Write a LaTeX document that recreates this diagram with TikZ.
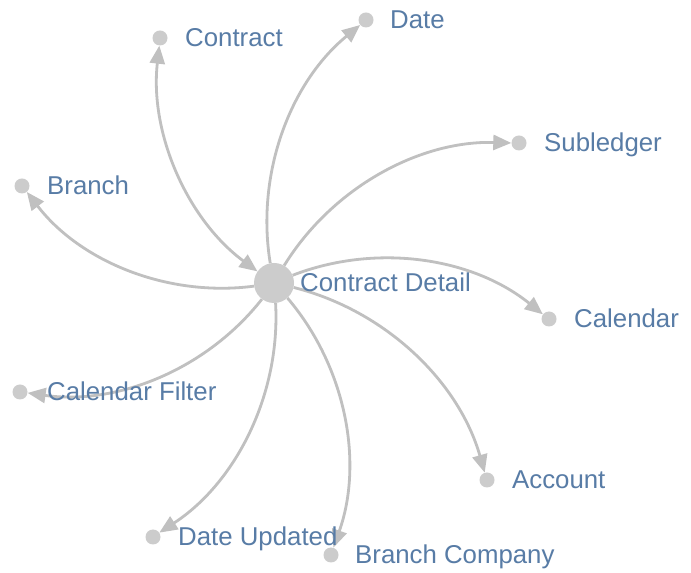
\documentclass[tikz,border=0pt]{standalone}
\usepackage{fontspec}
\setmainfont{Liberation Sans}
\usetikzlibrary{arrows.meta}
\definecolor{edgegray}{RGB}{192,192,192}
\definecolor{nodegray}{RGB}{204,204,204}
\definecolor{labelblue}{RGB}{88,124,166}
\begin{document}
\begin{tikzpicture}[x=1pt,y=1pt,
  leaf/.style={circle,fill=nodegray,draw=none,minimum size=15pt,inner sep=0pt},
  hub/.style={circle,fill=nodegray,draw=none,minimum size=40pt,inner sep=0pt},
  lbl/.style={anchor=base west,inner sep=0pt,text=labelblue,font=\fontsize{25.8}{30}\selectfont},
  edge/.style={draw=edgegray,line width=2.8pt,-{Triangle[length=18pt,width=15pt]},bend left=30,looseness=0.91},
  edge2/.style={draw=edgegray,line width=2.8pt,{Triangle[length=18pt,width=15pt]}-{Triangle[length=18pt,width=15pt]},bend left=30,looseness=0.91}]
\fill[white] (0,0) rectangle (691,573);
\useasboundingbox (0,0) rectangle (691,573);
% nodes
\node[hub]  (cd)   at (274,290) {};
\node[leaf] (con)  at (160,535) {};
\node[leaf] (dat)  at (366,553) {};
\node[leaf] (sub)  at (519,430) {};
\node[leaf] (bra)  at (22,387) {};
\node[leaf] (cal)  at (549,254) {};
\node[leaf] (cf)   at (20,181) {};
\node[leaf] (acc)  at (487,93) {};
\node[leaf] (du)   at (153,36) {};
\node[leaf] (bc)   at (331,18) {};
% edges
\draw[edge2] (cd) to (con);
\draw[edge] (cd) to (dat);
\draw[edge] (cd) to (sub);
\draw[edge] (cd) to (bra);
\draw[edge] (cd) to (cal);
\draw[edge] (cd) to (cf);
\draw[edge] (cd) to (acc);
\draw[edge] (cd) to (du);
\draw[edge] (cd) to (bc);
% labels
\node[lbl] (lcd)  at ([xshift=26pt,yshift=-9pt]cd.center) {Contract Detail};
\node[lbl] (lcon) at ([xshift=25pt,yshift=-9pt]con.center) {Contract};
\node[lbl] (ldat) at ([xshift=24pt,yshift=-9pt]dat.center) {Date};
\node[lbl] (lsub) at ([xshift=25pt,yshift=-9pt]sub.center) {Subledger};
\node[lbl] (lbra) at ([xshift=25pt,yshift=-9pt]bra.center) {Branch};
\node[lbl] (lcal) at ([xshift=25pt,yshift=-9pt]cal.center) {Calendar};
\node[lbl] (lcf)  at ([xshift=27pt,yshift=-9pt]cf.center) {Calendar Filter};
\node[lbl] (lacc) at ([xshift=25pt,yshift=-9pt]acc.center) {Account};
\node[lbl] (ldu)  at ([xshift=25pt,yshift=-9pt]du.center) {Date Updated};
\node[lbl] (lbc)  at ([xshift=24pt,yshift=-9pt]bc.center) {Branch Company};
\end{tikzpicture}
\end{document}
